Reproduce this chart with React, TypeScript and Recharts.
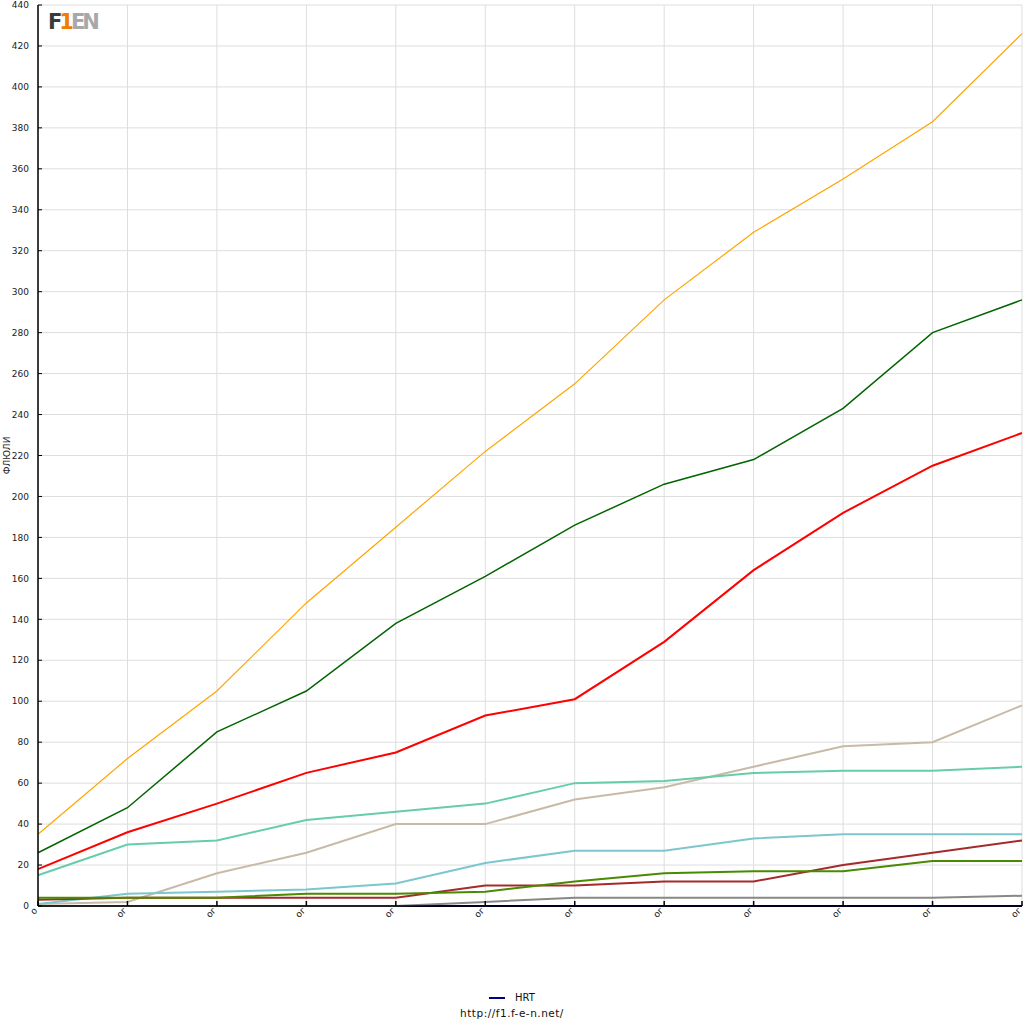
import { LineChart, Line, XAxis, YAxis, CartesianGrid, Legend } from "recharts";

const races = ["о", "ог", "ог", "ог", "ог", "ог", "ог", "ог", "ог", "ог", "ог", "ог"];

const hrt = [0, 0, 0, 0, 0, 0, 0, 0, 0, 0, 0, 0];
const golden = [0, 0, 0, 0, 0, 0, 0, 0, 0, 0, 0, 0];
const orange = [35, 72, 105, 148, 185, 222, 255, 296, 329, 355, 383, 426];
const darkGreen = [26, 48, 85, 105, 138, 161, 186, 206, 218, 243, 280, 296];
const red = [18, 36, 50, 65, 75, 93, 101, 129, 164, 192, 215, 231];
const aqua = [15, 30, 32, 42, 46, 50, 60, 61, 65, 66, 66, 68];
const tan = [1, 2, 16, 26, 40, 40, 52, 58, 68, 78, 80, 98];
const lightBlue = [1, 6, 7, 8, 11, 21, 27, 27, 33, 35, 35, 35];
const brown = [3, 4, 4, 4, 4, 10, 10, 12, 12, 20, 26, 32];
const green = [4, 4, 4, 6, 6, 7, 12, 16, 17, 17, 22, 22];
const gray = [0, 0, 0, 0, 0, 2, 4, 4, 4, 4, 4, 5];

const majorTicks = Array.from({ length: 23 }, (_, i) => i * 20);
const minorTicks = Array.from({ length: 22 }, (_, i) => i * 20 + 10);

const data = races.map((race, i) => ({
  race,
  hrt: hrt[i],
  golden: golden[i],
  orange: orange[i],
  darkGreen: darkGreen[i],
  red: red[i],
  aqua: aqua[i],
  tan: tan[i],
  lightBlue: lightBlue[i],
  brown: brown[i],
  green: green[i],
  gray: gray[i],
}));

const FONT = "'DejaVu Sans', sans-serif";

function RaceTick(props: any) {
  const { x, y, payload } = props;
  return (
    <text
      x={x}
      y={y}
      transform={`rotate(-45, ${x}, ${y})`}
      textAnchor="end"
      fontSize={9}
      fontFamily={FONT}
      fill="#222"
    >
      {payload.value}
    </text>
  );
}

function LegendBox() {
  return (
    <div style={{ fontFamily: FONT, color: "#111", textAlign: "center" }}>
      <div style={{ fontSize: 10, height: 16, lineHeight: "16px" }}>
        <span
          style={{
            display: "inline-block",
            width: 16,
            height: 2,
            background: "#000080",
            verticalAlign: "middle",
            marginRight: 10,
          }}
        />
        HRT
      </div>
      <div style={{ fontSize: 10.5, lineHeight: "14px", letterSpacing: 0.5 }}>http://f1.f-e-n.net/</div>
    </div>
  );
}

const lineProps = { type: "linear" as const, dot: false, activeDot: false, isAnimationActive: false, yAxisId: "main", legendType: "none" as const };

export default function App() {
  return (
    <div style={{ position: "absolute", left: 0, top: 0, width: 1024, height: 1024, background: "#fff" }}>
      <LineChart width={1024} height={1024} data={data} margin={{ top: 5, right: 2, bottom: 78, left: 0 }}>
        <CartesianGrid yAxisId="main" stroke="#dddddd" strokeWidth={1} />
        <Line {...lineProps} dataKey="golden" stroke="#daa520" strokeWidth={2} />
        <XAxis
          dataKey="race"
          interval={0}
          height={40}
          tickSize={-5}
          tickMargin={10}
          tick={<RaceTick />}
          axisLine={{ stroke: "#000", strokeWidth: 1.5 }}
          tickLine={{ stroke: "#000", strokeWidth: 1.5 }}
        />
        <YAxis
          yAxisId="main"
          width={38}
          domain={[0, 440]}
          ticks={majorTicks}
          interval={0}
          tickSize={-4}
          tickMargin={13}
          tick={{ fontSize: 9, fontFamily: FONT, fill: "#222" }}
          axisLine={{ stroke: "#000", strokeWidth: 1.5 }}
          tickLine={{ stroke: "#000", strokeWidth: 1 }}
          label={{ value: "ФЛЮЛИ", angle: -90, position: "insideLeft", offset: 7, style: { fontSize: 9, fontFamily: FONT, fill: "#222", textAnchor: "middle" } }}
        />
        <YAxis
          yAxisId="minor"
          width={0}
          domain={[0, 440]}
          ticks={minorTicks}
          interval={0}
          tickSize={-4}
          tick={() => <g />}
          axisLine={false}
          tickLine={{ stroke: "#000", strokeWidth: 1 }}
        />
        <Legend
          layout="horizontal"
          verticalAlign="middle"
          align="center"
          wrapperStyle={{ top: 990, left: 0, width: 1024 }}
          content={() => <LegendBox />}
        />
        <Line {...lineProps} dataKey="hrt" stroke="#000080" strokeWidth={2} legendType="line" name="HRT" />
        <Line {...lineProps} dataKey="tan" stroke="#c9baa8" strokeWidth={2} />
        <Line {...lineProps} dataKey="aqua" stroke="#66cdaa" strokeWidth={2} />
        <Line {...lineProps} dataKey="lightBlue" stroke="#7cc6cf" strokeWidth={2} />
        <Line {...lineProps} dataKey="brown" stroke="#a52a2a" strokeWidth={2} />
        <Line {...lineProps} dataKey="green" stroke="#4a8a00" strokeWidth={2} />
        <Line {...lineProps} dataKey="gray" stroke="#888888" strokeWidth={2} />
        <Line {...lineProps} dataKey="red" stroke="#ff0000" strokeWidth={2} />
        <Line {...lineProps} dataKey="darkGreen" stroke="#006400" strokeWidth={1.5} />
        <Line {...lineProps} dataKey="orange" stroke="#ffa500" strokeWidth={1.2} />
      </LineChart>
      <div
        style={{
          position: "absolute",
          left: 48,
          top: 9,
          height: 27,
          fontFamily: FONT,
          fontWeight: "bold",
          fontSize: 21,
          lineHeight: "27px",
          letterSpacing: -3,
        }}
      >
        <span style={{ color: "#3a3a3a" }}>F</span>
        <span style={{ color: "#f07d00" }}>1</span>
        <span style={{ color: "#a8a8a8" }}>EN</span>
      </div>
    </div>
  );
}
